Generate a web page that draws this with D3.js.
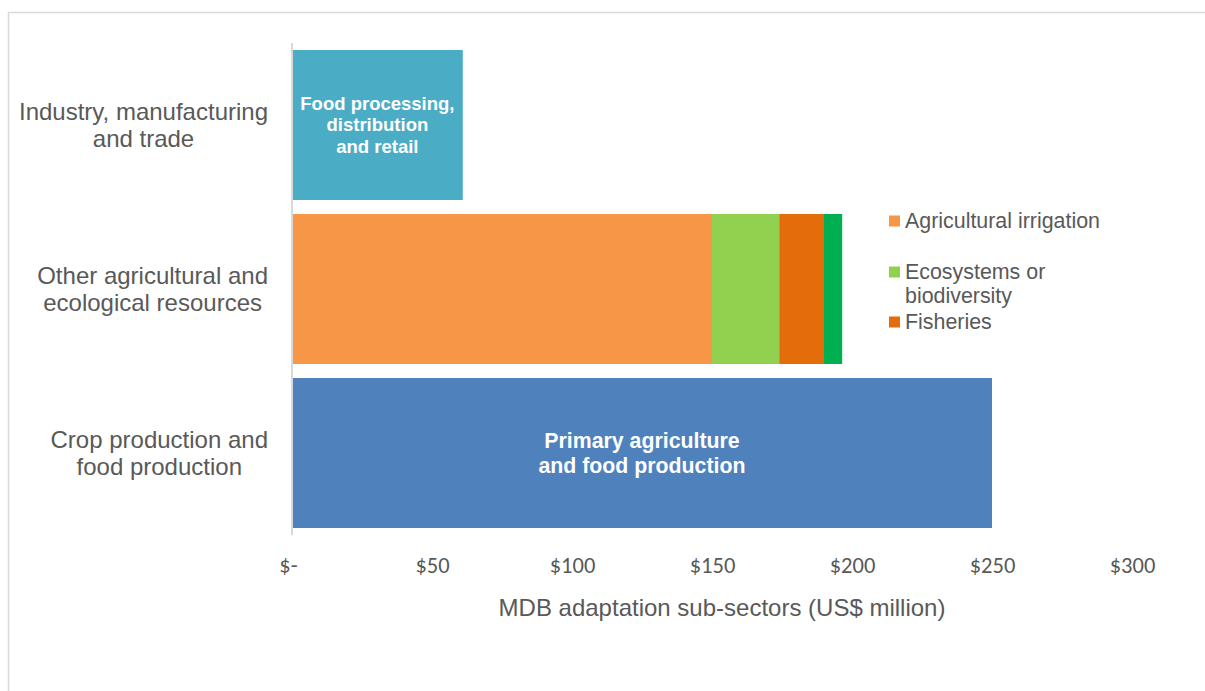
<!DOCTYPE html>
<html>
<head>
<meta charset="utf-8">
<script src="https://cdn.jsdelivr.net/npm/d3@7"></script>
<style>
  html, body { margin: 0; padding: 0; background: #fff; overflow: hidden; }
  svg { display: block; }
</style>
</head>
<body>
<svg id="chart" width="1205" height="691"></svg>
<script>
// Category rows (top to bottom) and their wrapped label lines
const categories = ["industry", "other", "crop"];
const categoryLines = [
  ["Industry, manufacturing", "and trade"],
  ["Other agricultural and", "ecological resources"],
  ["Crop production and", "food production"]
];

// Sub-sector series, US$ million per category row
const seriesNames = [
  "Food processing, distribution and retail",
  "Agricultural irrigation",
  "Ecosystems or biodiversity",
  "Fisheries",
  "Other resources",
  "Primary agriculture and food production"
];
const foodProcessing = [61, 0, 0];
const irrigation     = [0, 150, 0];
const ecosystems     = [0, 24, 0];
const fisheries      = [0, 16, 0];
const otherResources = [0, 6.5, 0];
const primaryAgri    = [0, 0, 250];
const seriesColors = ["#4BACC6", "#F79646", "#92D050", "#E46C0A", "#00B050", "#4F81BD"];

// In-bar labels and legend entries
const barLabels = [
  { series: 0, lines: ["Food processing,", "distribution", "and retail"], size: 18.5, lh: 21.5 },
  { series: 5, lines: ["Primary agriculture", "and food production"], size: 21.3, lh: 25 }
];
const legendItems = [
  { series: 1, lines: ["Agricultural irrigation"] },
  { series: 2, lines: ["Ecosystems or", "biodiversity"] },
  { series: 3, lines: ["Fisheries"] }
];
const tickValues = [0, 50, 100, 150, 200, 250, 300];
const axisTitle = "MDB adaptation sub-sectors (US$ million)";

const allSeries = [foodProcessing, irrigation, ecosystems, fisheries, otherResources, primaryAgri];
const table = categories.map((c, i) => {
  const row = { category: c };
  seriesNames.forEach((s, j) => { row[s] = allSeries[j][i]; });
  return row;
});

const svg = d3.select("#chart");
const textColor = "#595959";
const sans = "'Liberation Sans', Arial, sans-serif";

// Outer chart frame
svg.append("rect")
  .attr("x", 8.5).attr("y", 12.5)
  .attr("width", 1300).attr("height", 800)
  .attr("fill", "#fff").attr("stroke", "#D9D9D9").attr("stroke-width", 1.5);

const x = d3.scaleLinear().domain([0, 300]).range([292, 1132]);
const y = d3.scaleBand().domain(categories).range([43, 535])
  .paddingInner(14 / 164).paddingOuter(7 / 164);

const stacked = d3.stack().keys(seriesNames)(table);

// Stacked bars
svg.append("g").selectAll("g")
  .data(stacked)
  .join("g")
  .attr("fill", (d, i) => seriesColors[i])
  .selectAll("rect")
  .data(d => d.filter(p => p[1] - p[0] > 0))
  .join("rect")
  .attr("x", p => x(p[0]))
  .attr("y", p => y(p.data.category))
  .attr("width", p => x(p[1]) - x(p[0]))
  .attr("height", y.bandwidth());

// Vertical category axis line
svg.append("line")
  .attr("x1", x(0)).attr("x2", x(0))
  .attr("y1", 43).attr("y2", 535)
  .attr("stroke", "#D9D9D9").attr("stroke-width", 2);

// Bottom value axis (labels only)
const xAxis = d3.axisBottom(x)
  .tickValues(tickValues)
  .tickSize(0)
  .tickPadding(0)
  .tickFormat(d => d === 0 ? "$-" : "$" + d);
const gx = svg.append("g").attr("transform", "translate(0,573)").call(xAxis);
gx.select(".domain").remove();
gx.selectAll("text")
  .attr("fill", textColor)
  .attr("dy", 0)
  .attr("dx", d => d === 0 ? -4 : 0)
  .style("font-family", "Carlito, Lato, sans-serif")
  .style("font-size", "22.5px");

svg.append("text")
  .attr("x", 722).attr("y", 616)
  .attr("text-anchor", "middle")
  .attr("fill", textColor)
  .style("font-family", sans).style("font-size", "24px")
  .text(axisTitle);

// Category labels: a right-aligned block with centred lines
categories.forEach((c, i) => {
  const cy = y(c) + y.bandwidth() / 2;
  const lines = categoryLines[i];
  const lh = 27.5;
  const g = svg.append("g");
  const texts = g.selectAll("text").data(lines).join("text")
    .attr("y", (d, k) => cy + (k - (lines.length - 1) / 2) * lh)
    .attr("dy", "0.35em")
    .attr("text-anchor", "middle")
    .attr("fill", textColor)
    .style("font-family", sans).style("font-size", "24px")
    .text(d => d);
  let maxW = 0;
  texts.each(function () { maxW = Math.max(maxW, this.getComputedTextLength()); });
  texts.attr("x", 268 - maxW / 2);
});

// White labels inside bars
barLabels.forEach(b => {
  const row = stacked[b.series].find(p => p[1] - p[0] > 0);
  const cx = (x(row[0]) + x(row[1])) / 2;
  const cy = y(row.data.category) + y.bandwidth() / 2;
  svg.append("g").selectAll("text").data(b.lines).join("text")
    .attr("x", cx)
    .attr("y", (d, k) => cy + (k - (b.lines.length - 1) / 2) * b.lh)
    .attr("dy", "0.35em")
    .attr("text-anchor", "middle")
    .attr("fill", "#fff")
    .style("font-family", sans).style("font-size", b.size + "px")
    .style("font-weight", "bold")
    .text(d => d);
});

// Legend
const legendTop = [221, 272, 322];
legendItems.forEach((item, i) => {
  const g = svg.append("g");
  g.append("rect")
    .attr("x", 889).attr("y", legendTop[i] - 5.5)
    .attr("width", 11).attr("height", 11)
    .attr("fill", seriesColors[item.series]);
  g.selectAll("text").data(item.lines).join("text")
    .attr("x", 905)
    .attr("y", (d, k) => legendTop[i] + k * 24)
    .attr("dy", "0.35em")
    .attr("fill", textColor)
    .style("font-family", sans).style("font-size", "21.4px")
    .text(d => d);
});
</script>
</body>
</html>
